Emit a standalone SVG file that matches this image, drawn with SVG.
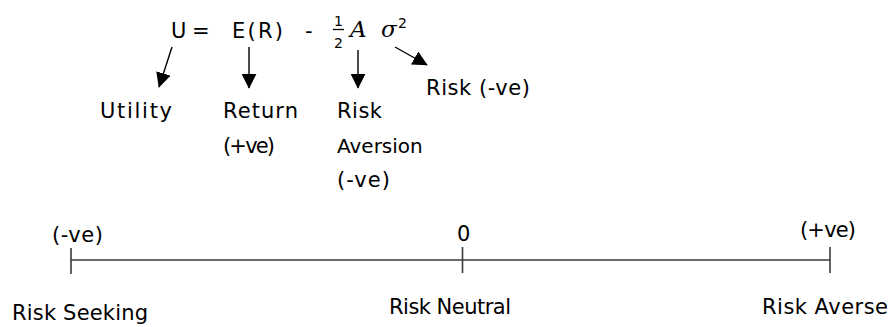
<svg xmlns="http://www.w3.org/2000/svg" width="895" height="327" viewBox="0 0 895 327">
<style>
.t{font-family:"DejaVu Sans","Open Sans",sans-serif;font-size:21px;fill:#000}
.m{font-family:"DejaVu Serif","Liberation Serif",serif;font-style:italic;font-size:23px;fill:#000}
.s{font-family:"DejaVu Sans","Liberation Sans",sans-serif;font-size:14px;fill:#000}
.c{stroke:#000;stroke-width:1.4;fill:none}
.ax{stroke:#3a3a3a;stroke-width:1.6;fill:none}
</style>
<defs>
<marker id="ah" viewBox="0 0 10 10" refX="9.5" refY="5" markerWidth="15" markerHeight="15" markerUnits="userSpaceOnUse" orient="auto">
<path d="M0,0 L10,5 L0,10 z" fill="#000"/>
</marker>
</defs>
<g id="formula">
<text class="t" x="171" y="38">U</text>
<text class="t" x="192" y="38">=</text>
<text class="t" x="232" y="38" textLength="51" lengthAdjust="spacing">E(R)</text>
<text class="t" x="305" y="38">-</text>
<text class="s" x="334" y="26">1</text>
<line x1="333" y1="29.5" x2="344" y2="29.5" stroke="#000" stroke-width="1.3"/>
<text class="s" x="334" y="48">2</text>
<text class="m" x="350" y="37">A</text>
<text class="m" x="381" y="37">σ</text>
<text class="s" x="398" y="28">2</text>
</g>
<g id="connectors">
<line class="c" x1="172" y1="47" x2="159" y2="87" marker-end="url(#ah)"/>
<line class="c" x1="249" y1="47" x2="249" y2="88" marker-end="url(#ah)"/>
<line class="c" x1="358" y1="50" x2="358" y2="88" marker-end="url(#ah)"/>
<line class="c" x1="395" y1="47" x2="427" y2="65" marker-end="url(#ah)"/>
</g>
<g id="labels">
<text class="t" x="100" y="118" textLength="72" lengthAdjust="spacing">Utility</text>
<text class="t" x="223" y="118" textLength="75" lengthAdjust="spacing">Return</text>
<text class="t" x="223" y="153" textLength="52" lengthAdjust="spacing">(+ve)</text>
<text class="t" x="337" y="118" textLength="45" lengthAdjust="spacing">Risk</text>
<text class="t" x="337" y="153" style="font-size:20px">Aversion</text>
<text class="t" x="337" y="187" textLength="53" lengthAdjust="spacing">(-ve)</text>
<text class="t" x="426" y="95" textLength="104" lengthAdjust="spacing">Risk (-ve)</text>
</g>
<g id="axis">
<line class="ax" x1="71" y1="260" x2="830" y2="260"/>
<line class="ax" x1="71" y1="248" x2="71" y2="274"/>
<line class="ax" x1="462.5" y1="247" x2="462.5" y2="273"/>
<line class="ax" x1="830" y1="247" x2="830" y2="273"/>
<text class="t" x="52" y="242" textLength="51" lengthAdjust="spacing">(-ve)</text>
<text class="t" x="457" y="241">0</text>
<text class="t" x="800" y="237" textLength="56" lengthAdjust="spacing">(+ve)</text>
<text class="t" x="12" y="320" textLength="136" lengthAdjust="spacing">Risk Seeking</text>
<text class="t" x="389" y="314" textLength="122" lengthAdjust="spacing">Risk Neutral</text>
<text class="t" x="762" y="314" textLength="126" lengthAdjust="spacing">Risk Averse</text>
</g>
</svg>
